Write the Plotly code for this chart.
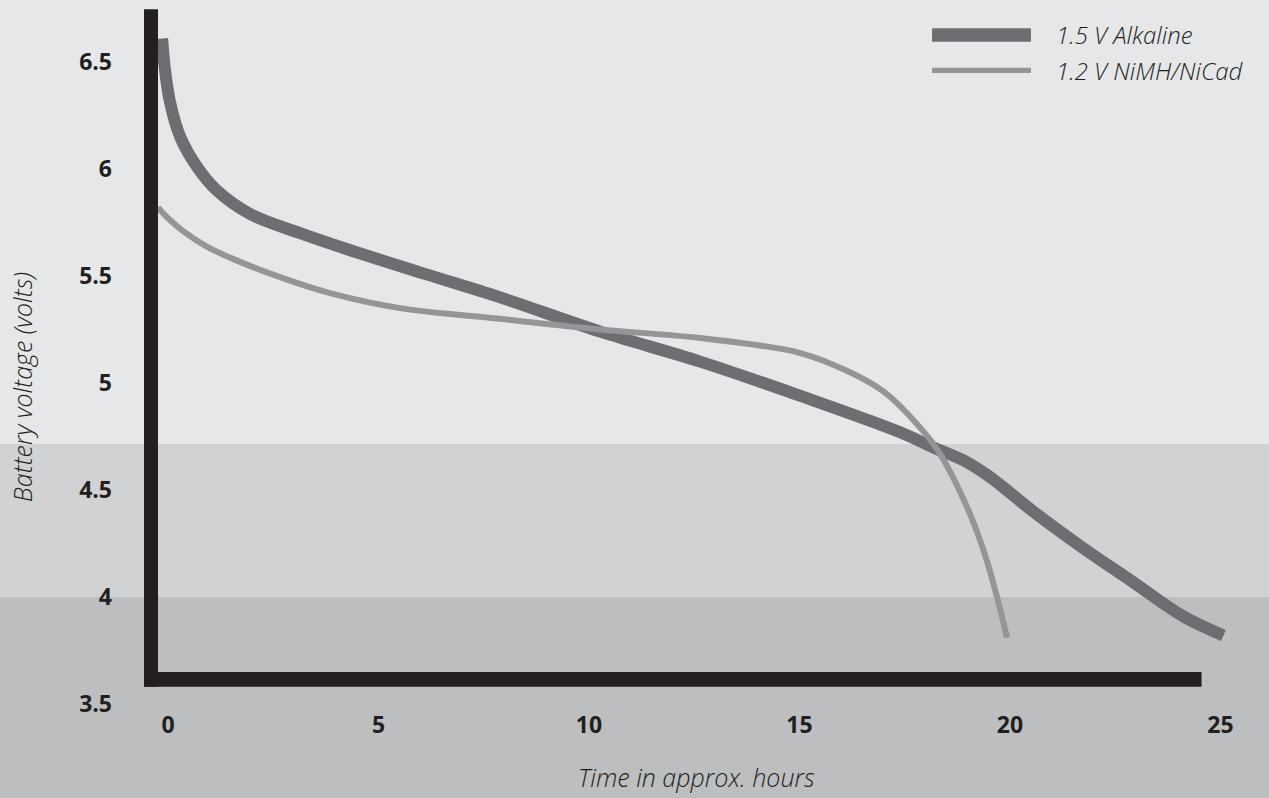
import plotly.graph_objects as go

# battery discharge curves (time in hours, voltage)
alk_hours = [-0.14, -0.07, 0.05, 0.29, 0.69, 1.16, 1.95, 3.14, 4.33, 6.1, 7.89, 10.27, 12.64, 15.02,
             17.39, 18.17, 18.98, 19.53, 20.55, 21.73, 22.92, 24.11, 25.07]
alk_volts = [6.61, 6.46, 6.31, 6.15, 6.01, 5.90, 5.79, 5.70, 5.62, 5.51, 5.40, 5.24, 5.10, 4.94,
             4.77, 4.70, 4.63, 4.56, 4.40, 4.23, 4.07, 3.91, 3.82]

nimh_hours = [-0.24, 0.0, 0.36, 0.9, 1.54, 2.73, 3.85, 5.51, 7.89, 10.27, 12.64, 15.02, 16.2, 17.0,
              17.55, 18.27, 18.98, 19.45, 19.93]
nimh_volts = [5.82, 5.77, 5.71, 5.64, 5.58, 5.49, 5.42, 5.35, 5.30, 5.25, 5.21, 5.14, 5.05, 4.96,
              4.86, 4.69, 4.42, 4.17, 3.81]

x_ticks = [0, 5, 10, 15, 20, 25]
y_ticks = [3.5, 4, 4.5, 5, 5.5, 6, 6.5]
y_tick_text = ["3.5", "4", "4.5", "5", "5.5", "6", "6.5"]

series_names = ["1.5 V Alkaline", "1.2 V NiMH/NiCad"]

band_edges = [4.0, 4.715]   # voltage where the background shade changes

X_RANGE = [-0.594, 26.105]
Y_RANGE = [3.5, 6.7897]

DARK = "#231f20"
ALK_COL = "#6d6e71"
NIMH_COL = "#939598"


def ypaper(v):
    return (v - Y_RANGE[0]) / (Y_RANGE[1] - Y_RANGE[0])


fig = go.Figure()
fig.add_trace(go.Scatter(x=alk_hours, y=alk_volts, mode="lines", name=series_names[0],
                         line=dict(color=ALK_COL, width=12, shape="spline", smoothing=1.0)))
fig.add_trace(go.Scatter(x=nimh_hours, y=nimh_volts, mode="lines", name=series_names[1],
                         line=dict(color=NIMH_COL, width=6, shape="spline", smoothing=1.0)))

shapes = [
    # background bands
    dict(type="rect", xref="paper", yref="paper", x0=-0.2, x1=1.1, y0=ypaper(band_edges[1]), y1=1.1,
         fillcolor="#e6e7e8", line_width=0, layer="below"),
    dict(type="rect", xref="paper", yref="paper", x0=-0.2, x1=1.1, y0=ypaper(band_edges[0]), y1=ypaper(band_edges[1]),
         fillcolor="#d1d2d4", line_width=0, layer="below"),
    # thick axis bars
    dict(type="rect", xref="x", yref="y", x0=-0.57, x1=-0.238, y0=3.581, y1=6.746,
         fillcolor=DARK, line_width=0, layer="above"),
    dict(type="rect", xref="x", yref="y", x0=-0.57, x1=24.55, y0=3.581, y1=3.649,
         fillcolor=DARK, line_width=0, layer="above"),
    # legend swatches
    dict(type="rect", xref="paper", yref="paper", x0=0.702, x1=0.790, y0=0.9408, y1=0.9598,
         fillcolor=ALK_COL, line_width=0),
    dict(type="rect", xref="paper", yref="paper", x0=0.702, x1=0.790, y0=0.8963, y1=0.9038,
         fillcolor=NIMH_COL, line_width=0),
]

ital = dict(family="Open Sans", size=24, color=DARK, style="italic", weight=300)
annotations = [
    dict(text=series_names[0], xref="paper", yref="paper", x=0.8105, y=0.9503, xanchor="left",
         yanchor="middle", showarrow=False, font=ital),
    dict(text=series_names[1], xref="paper", yref="paper", x=0.8105, y=0.8999, xanchor="left",
         yanchor="middle", showarrow=False, font=ital),
    dict(text="Time in approx. hours", xref="paper", yref="paper", x=0.492, y=-0.1037,
         xanchor="center", yanchor="middle", showarrow=False, font=dict(ital, size=25)),
    dict(text="Battery voltage (volts)", xref="paper", yref="paper", x=-0.1077, y=0.45,
         xanchor="center", yanchor="middle", textangle=-90, showarrow=False, font=dict(ital, size=25)),
]

tickfont = dict(family="Open Sans", size=23, color=DARK, weight="bold")

fig.update_layout(
    width=1269, height=798,
    margin=dict(l=143, r=2, t=0, b=94),
    paper_bgcolor="#bcbec0",
    plot_bgcolor="rgba(0,0,0,0)",
    showlegend=False,
    shapes=shapes,
    annotations=annotations,
    xaxis=dict(range=X_RANGE, tickvals=x_ticks, showgrid=False, zeroline=False, showline=False,
               tickfont=tickfont, ticks="", ticklabelstandoff=5),
    yaxis=dict(range=Y_RANGE, tickvals=y_ticks, ticktext=y_tick_text, showgrid=False, zeroline=False,
               showline=False, tickfont=tickfont, ticks="", ticklabelstandoff=30),
)

fig.write_html("out.html", config={"displayModeBar": False},
               post_script="document.body.style.margin='0';")
